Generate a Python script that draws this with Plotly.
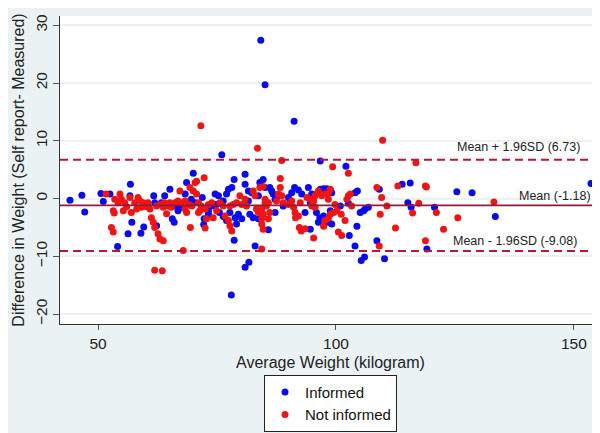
import plotly.graph_objects as go

# ---- data ----
informed_avg = [44.1, 46.6, 47.2, 76.0, 84.2, 85.1, 91.2, 96.7, 102.1, 78.0, 80.9, 81.7, 105.3, 106.0, 110.2,
                50.6, 51.1, 52.5, 54.1, 56.8, 56.7, 57.1, 56.3, 59.0, 59.6, 61.7, 62.3, 61.9, 63.3, 64.0, 65.1,
                66.2, 66.8, 67.5, 65.6, 66.0, 68.6, 70.0, 68.3, 69.6, 70.4, 72.3, 73.2, 73.9, 74.6, 75.3, 74.9,
                76.3, 77.4, 78.1, 78.6, 77.0, 77.7, 78.8, 79.5, 80.2, 79.1, 80.9, 80.9, 81.6, 81.9, 82.6, 83.7,
                83.0, 84.0, 84.7, 85.1, 83.7, 78.6, 72.2, 71.9, 75.5, 76.3, 77.0, 73.2, 81.6, 82.3,
                86.5, 86.8, 87.5, 86.1, 87.2, 87.2, 85.8, 88.9, 90.0, 90.7, 91.3, 92.1, 92.8, 94.2, 94.9, 94.6,
                93.5, 95.9, 96.6, 97.4, 97.7, 98.4, 98.8, 99.1, 96.3, 94.6, 100.9, 96.7, 97.4, 98.1, 98.8, 99.1,
                104.0, 104.5, 104.4, 105.1, 105.8, 106.1, 106.8, 104.0, 108.6, 113.9, 115.6, 115.1, 115.8, 119.1,
                102.6, 102.8, 109.1, 90.4, 120.7, 125.4, 128.6, 133.5, 153.6]
informed_diff = [-0.3, 0.6, -2.3, 7.6, 27.4, 19.7, 13.4, 6.5, 5.6, -16.7, -11.9, -11.0, -10.7, -10.1, -10.4,
                 0.9, -0.5, 0.8, -8.3, 2.5, 0.5, -4.1, -6.1, -6.0, -4.9, 0.5, -4.7, -0.7, -0.7, 0.5, 1.6,
                 -1.3, -2.1, -1.5, -3.5, -4.1, 2.8, 4.4, 0.8, -0.1, -0.7, -3.5, -2.1, -1.3, 0.8, 0.5, -1.0,
                 -0.4, 1.6, 1.9, 3.3, 0.8, -2.4, -3.3, -2.7, -3.5, -4.4, 4.2, 2.5, 1.3, -2.7, -3.3, -3.5,
                 -8.2, 2.8, 3.3, 1.9, 0.5, -7.2, -4.5, 0.2, -2.4, -3.1, -3.8, -2.7, -0.4, 1.0,
                 1.3, 0.8, 0.2, 1.9, -0.1, -2.4, -5.4, -1.3, 0.2, 1.0, 1.9, 1.5, 0.8, 1.9, 0.8, -0.7,
                 -2.4, -2.4, -3.3, -3.0, -3.8, -4.1, -2.1, -4.4, -4.1, -5.3, -1.3, 1.6, 1.7, 1.7, 1.5, 1.0,
                 1.0, 1.3, -4.8, -2.4, -2.1, -1.8, -1.5, -8.2, -7.3, 2.5, 2.7, -0.7, -1.5, -8.7,
                 -0.8, -6.4, 1.6, -0.6, -1.5, 1.2, 1.0, -3.1, 2.6]

notinf_avg = [71.6, 83.5, 109.8, 88.6, 99.3, 116.8, 61.9, 63.5,
              51.7, 53.5, 53.2, 53.4, 52.8, 53.2, 54.6, 54.9, 54.2, 55.6, 56.0, 56.7, 55.3, 57.7, 58.4, 58.8,
              59.5, 59.1, 59.8, 58.1, 57.0, 60.5, 60.9, 61.2, 61.6, 61.9, 62.6, 63.0, 63.7, 62.3, 63.0, 63.7,
              64.0, 64.7, 65.4, 65.1, 66.2, 66.8, 67.5, 68.3, 69.0, 69.7, 68.3, 67.2, 69.3, 70.0, 70.7, 70.4,
              70.7, 72.3, 71.1, 71.7, 72.5, 73.2, 73.9, 71.1, 71.4, 72.8, 72.5, 75.6, 76.3, 74.9, 74.2, 76.7,
              77.4, 77.7, 78.1, 77.7, 78.4, 79.1, 80.2, 79.8, 80.9, 83.3, 83.7, 84.4, 84.4, 84.7, 84.4, 85.1,
              67.9, 69.4, 64.4, 68.6, 60.2, 84.0, 84.7, 83.0, 82.6, 81.2, 86.1, 85.8,
              88.3, 88.3, 87.9, 88.6, 88.9, 85.1, 85.8, 85.4, 84.4, 84.7, 90.0, 90.7, 91.1, 91.4, 92.1, 92.5,
              92.3, 92.7, 95.3, 93.9, 94.6, 95.3, 95.6, 96.0, 96.3, 94.9, 95.6, 97.0, 97.7, 98.4, 98.8, 98.4,
              99.8, 100.2, 98.8, 99.5, 100.5, 101.2, 101.9, 102.3, 102.6, 103.0, 102.6, 108.6, 109.6, 110.7,
              109.3, 112.5, 113.0, 117.4, 118.8, 118.8, 97.7, 97.4, 98.4, 101.1, 103.3, 109.1, 93.5, 91.5, 87.5,
              119.0, 116.1, 121.1, 122.6, 125.6, 133.2]
notinf_diff = [12.6, 8.7, 10.1, 6.6, 5.5, 6.2, -12.4, -12.5,
               0.8, -0.1, -2.1, -2.5, -5.0, -5.8, 0.8, -0.1, -0.7, -0.7, -1.4, 0.2, -2.1, -0.7, 0.2, -0.4,
               -0.7, -1.5, -1.3, -1.8, -2.4, -0.7, -1.8, -3.3, -4.1, -5.0, -6.1, -7.0, -7.3, -1.3, -1.0, -1.5,
               -0.7, -1.3, -1.5, -0.7, -0.7, -0.4, -0.7, -0.4, -1.0, -1.3, -1.8, 1.3, 1.9, 1.3, 0.8, 2.8,
               3.0, 3.6, -0.7, -1.3, -1.8, -1.0, -0.7, -2.4, -2.1, -3.5, -5.1, -0.7, -1.3, -2.1, -3.3, -3.0,
               -3.8, -4.7, -5.6, -1.3, -1.0, -0.7, -1.0, 0.5, -0.1, -1.8, -2.4, -3.5, -4.4, -5.3, -8.7, -0.7,
               -9.0, -5.0, -2.6, -2.4, -1.4, 1.9, 2.1, 0.5, 1.3, -1.3, -2.4, -3.5,
               3.5, 1.9, 0.8, 0.5, -0.7, -0.1, -0.7, -1.3, -1.8, -2.7, -1.0, -0.4, -1.5, -2.4, -3.0, -0.7,
               -5.0, -5.6, -6.8, 0.2, -0.1, -0.4, 0.5, 0.9, 1.3, -1.3, -1.5, 0.5, 0.8, 1.0, 1.6, -0.1,
               -1.0, -2.1, -2.7, -2.4, -5.8, -6.4, -3.8, -0.1, 0.5, 0.8, 4.4, 1.9, 0.2, -1.3,
               -2.7, -5.1, 2.2, -0.8, 2.2, -7.3, -3.8, -4.8, -3.4, -2.7, -1.3, -8.2, -5.2, -3.3, -0.4,
               2.0, -2.5, -2.4, -5.3, -3.3, -0.6]

MEAN_DIFF = -1.18
UPPER = 6.73
LOWER = -9.08
x_ticks = [50, 100, 150]
y_ticks = [-20, -10, 0, 10, 20, 30]

FONT = "Liberation Sans, Arial, sans-serif"
BG = "#EAF2F3"

fig = go.Figure()
fig.add_trace(go.Scatter(x=informed_avg, y=informed_diff, mode="markers", name="Informed",
                         marker=dict(color="#0A0AF0", size=7, line=dict(width=0))))
fig.add_trace(go.Scatter(x=notinf_avg, y=notinf_diff, mode="markers", name="Not informed",
                         marker=dict(color="#F01414", size=7, line=dict(width=0))))

for val, dash, col, w in [(UPPER, "8px,5px", "#B8163A", 2), (LOWER, "8px,5px", "#B8163A", 2),
                          (MEAN_DIFF, "solid", "#8E1A3C", 1.6)]:
    fig.add_shape(type="line", xref="x domain", yref="y", x0=0, x1=1, y0=val, y1=val,
                  line=dict(color=col, width=w, dash=dash), layer="above")

labels = [(151.7, 9.0, f"Mean + 1.96SD ({UPPER:.2f})"),
          (154.0, 0.4, f"Mean ({MEAN_DIFF:.2f})"),
          (151.1, -7.3, f"Mean - 1.96SD ({LOWER:.2f})")]
for lx, ly, txt in labels:
    fig.add_annotation(x=lx, y=ly, text=txt, showarrow=False, xanchor="right", yanchor="middle",
                       font=dict(family=FONT, size=12.5, color="#222"))

fig.update_layout(
    width=600, height=433,
    margin=dict(l=52, r=7, t=6, b=117),
    paper_bgcolor=BG, plot_bgcolor="white",
    font=dict(family=FONT, size=15, color="#222"),
    showlegend=True,
    legend=dict(x=0.5, y=-0.165, xanchor="center", yanchor="top",
                bgcolor="white", bordercolor="#222", borderwidth=1, itemwidth=30,
                font=dict(family=FONT, size=15, color="#111"), tracegroupgap=0),
    xaxis=dict(range=[42.0, 155.7], tickvals=x_ticks, showgrid=False, zeroline=False,
               showline=True, linecolor="#333", linewidth=1, ticks="outside", ticklen=5,
               tickcolor="#555", tickfont=dict(size=15.5),
               title=dict(text="Average Weight (kilogram)", standoff=6, font=dict(size=16))),
    yaxis=dict(range=[-21.7, 31.6], tickvals=y_ticks, showgrid=True, gridcolor=BG, gridwidth=1.5,
               zeroline=False, showline=True, linecolor="#333", linewidth=1, ticks="outside",
               ticklen=6, tickcolor="#555", tickangle=-90, tickfont=dict(size=15.5),
               title=dict(text="Difference in Weight (Self report- Measured)", standoff=4,
                          font=dict(size=16))),
)

fig.write_html("out.html")
